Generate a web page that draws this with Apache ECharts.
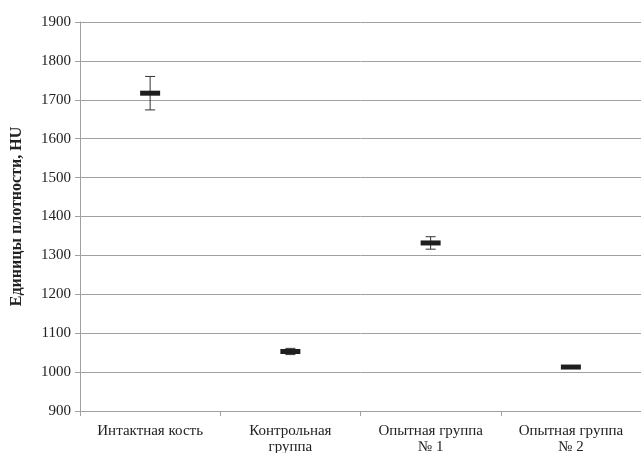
<!DOCTYPE html>
<html>
<head>
<meta charset="utf-8">
<script src="https://cdn.jsdelivr.net/npm/echarts@6/dist/echarts.min.js"></script>
<style>
html, body { margin: 0; padding: 0; background: #fff; }
#chart { width: 641px; height: 453px; }
</style>
</head>
<body>
<div id="chart"></div>
<script>
// группы и значения (среднее ± ошибка), HU
const categories = ['Интактная кость', 'Контрольная\nгруппа', 'Опытная группа\n№ 1', 'Опытная группа\n№ 2'];
const means = [1717, 1053, 1332, 1013];
const errors = [43, 8, 16, 2];
const yTicks = { min: 900, max: 1900, step: 100 };

const font = 'Liberation Serif';
const myChart = echarts.init(document.getElementById('chart'));

const seriesData = means.map((m, i) => [i, m, m - errors[i], m + errors[i]]);

const option = {
  animation: false,
  grid: { left: 80, right: 0, top: 22, bottom: 42, outerBoundsMode: 'none', containLabel: false },
  xAxis: {
    type: 'category',
    data: categories,
    boundaryGap: true,
    axisLine: { lineStyle: { color: '#a0a0a0', width: 1 } },
    axisTick: { show: true, length: 5, interval: 0, lineStyle: { color: '#a0a0a0' } },
    axisLabel: {
      interval: 0,
      color: '#222',
      fontFamily: font,
      fontSize: 15,
      lineHeight: 16,
      margin: 12,
    },
    splitLine: { show: false },
  },
  yAxis: {
    type: 'value',
    min: yTicks.min,
    max: yTicks.max,
    interval: yTicks.step,
    name: 'Единицы плотности, HU',
    nameLocation: 'middle',
    nameGap: 55,
    nameRotate: 90,
    nameTextStyle: { fontFamily: font, fontSize: 16, fontWeight: 'bold', color: '#222' },
    axisLine: { show: true, lineStyle: { color: '#a0a0a0', width: 1 } },
    axisTick: { show: true, length: 5, lineStyle: { color: '#a0a0a0' } },
    axisLabel: {
      color: '#222',
      fontFamily: font,
      fontSize: 15,
      margin: 9,
      formatter: v => String(v),
    },
    splitLine: { lineStyle: { color: '#a0a0a0', width: 1 } },
  },
  series: [
    {
      type: 'custom',
      data: seriesData,
      encode: { x: 0, y: [1, 2, 3] },
      renderItem: (params, api) => {
        const x = api.value(0);
        const mid = api.coord([x, api.value(1)]);
        const lo = api.coord([x, api.value(2)]);
        const hi = api.coord([x, api.value(3)]);
        const cap = 5;
        const barW = 20;
        const barH = 5;
        const lineStyle = { stroke: '#333', lineWidth: 1 };
        return {
          type: 'group',
          children: [
            { type: 'line', shape: { x1: mid[0], y1: hi[1], x2: mid[0], y2: lo[1] }, style: lineStyle },
            { type: 'line', shape: { x1: mid[0] - cap, y1: hi[1], x2: mid[0] + cap, y2: hi[1] }, style: lineStyle },
            { type: 'line', shape: { x1: mid[0] - cap, y1: lo[1], x2: mid[0] + cap, y2: lo[1] }, style: lineStyle },
            {
              type: 'rect',
              shape: { x: mid[0] - barW / 2, y: mid[1] - barH / 2, width: barW, height: barH },
              style: { fill: '#1e1e1e' },
            },
          ],
        };
      },
    },
  ],
};

myChart.setOption(option);

window.addEventListener('resize', () => {
  myChart.resize();
});
</script>
</body>
</html>
